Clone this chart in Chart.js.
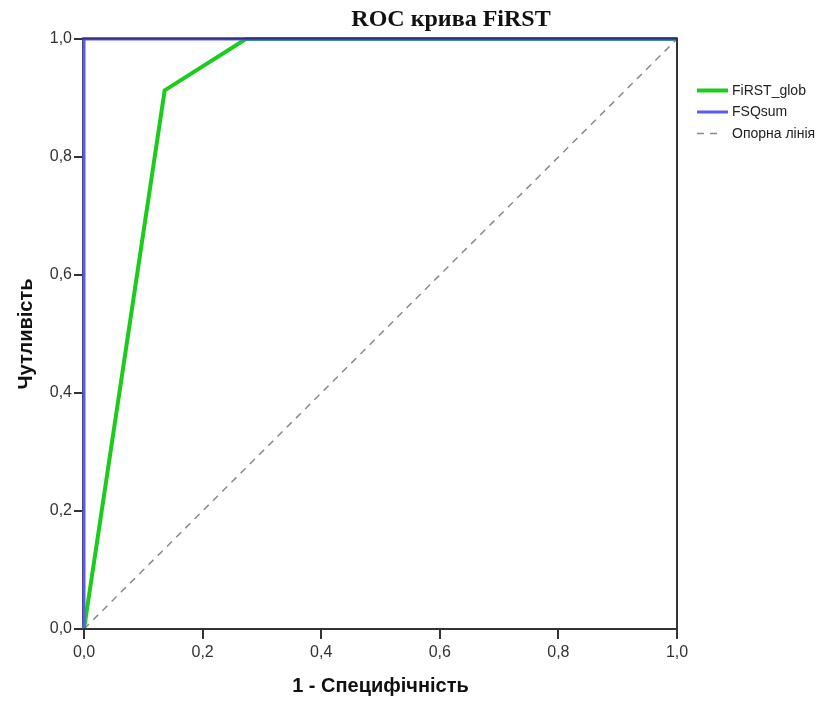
<!DOCTYPE html>
<html>
<head>
<meta charset="utf-8">
<script src="https://cdn.jsdelivr.net/npm/chart.js@4/dist/chart.umd.min.js"></script>
<style>
  html, body { margin: 0; padding: 0; background: #ffffff; }
  #wrap { width: 830px; height: 704px; position: relative; }
</style>
</head>
<body>
<div id="wrap"><canvas id="c" width="830" height="704"></canvas></div>
<script>
// ---- Data ----
const chartTitle = 'ROC крива FiRST';
const xTitle = '1 - Специфічність';
const yTitle = 'Чутливість';
const seriesNames = ['FiRST_glob', 'FSQsum', 'Опорна лінія'];
const firstX = [0, 0.136, 0.273, 1];
const firstY = [0, 0.913, 1, 1];
const fsqX = [0, 0, 1];
const fsqY = [0, 1, 1];
const refX = [0, 1];
const refY = [0, 1];
const tickValues = [0, 0.2, 0.4, 0.6, 0.8, 1.0];
const tickLabels = ['0,0', '0,2', '0,4', '0,6', '0,8', '1,0'];

const colors = { first: '#1ccc1c', fsq: '#5a5af0', ref: '#8a8a8a' };

function pts(xs, ys) { return xs.map((x, i) => ({ x: x, y: ys[i] })); }
function fmt(v) {
  const i = tickValues.findIndex(t => Math.abs(t - v) < 1e-9);
  return i >= 0 ? tickLabels[i] : '';
}

const framePlugin = {
  id: 'frame',
  beforeDatasetsDraw(chart) {
    const a = chart.chartArea, ctx = chart.ctx;
    ctx.save();
    ctx.strokeStyle = '#333333';
    ctx.lineWidth = 2;
    ctx.beginPath();
    ctx.moveTo(a.left - 1, a.top);
    ctx.lineTo(a.left - 1, a.bottom);
    ctx.stroke();
    ctx.restore();
  },
  afterDatasetsDraw(chart) {
    const a = chart.chartArea, ctx = chart.ctx;
    ctx.save();
    ctx.lineWidth = 2;
    ctx.strokeStyle = '#333333';
    ctx.beginPath();
    ctx.moveTo(a.left - 2, a.bottom);
    ctx.lineTo(a.right, a.bottom);
    ctx.lineTo(a.right, a.top - 1);
    ctx.stroke();
    ctx.strokeStyle = '#2c2c86';
    ctx.beginPath();
    ctx.moveTo(a.left - 2, a.top - 0.5);
    ctx.lineTo(a.right + 1, a.top - 0.5);
    ctx.stroke();
    ctx.restore();
  },
  afterDraw(chart) {
    const ctx = chart.ctx;
    ctx.save();
    // Title
    ctx.fillStyle = '#111111';
    ctx.font = 'bold 24px "Liberation Serif", "DejaVu Serif", serif';
    ctx.textAlign = 'center';
    ctx.textBaseline = 'middle';
    ctx.fillText(chartTitle, 451, 20);
    // Legend
    const items = [
      { label: seriesNames[0], color: colors.first, width: 4, dash: [] },
      { label: seriesNames[1], color: colors.fsq, width: 3, dash: [] },
      { label: seriesNames[2], color: colors.ref, width: 1.5, dash: [7, 6] }
    ];
    const ys = [90.5, 112, 133.5];
    ctx.font = '14px "Liberation Sans", Arial, sans-serif';
    ctx.textAlign = 'left';
    items.forEach((it, i) => {
      ctx.beginPath();
      ctx.strokeStyle = it.color;
      ctx.lineWidth = it.width;
      ctx.setLineDash(it.dash);
      ctx.moveTo(697, ys[i]);
      ctx.lineTo(it.dash.length ? 723 : 728, ys[i]);
      ctx.stroke();
      ctx.setLineDash([]);
      ctx.fillStyle = '#222222';
      ctx.fillText(it.label, 732, ys[i] + 0.5);
    });
    ctx.restore();
  }
};

new Chart(document.getElementById('c'), {
  type: 'scatter',
  data: {
    datasets: [
      {
        label: seriesNames[0],
        data: pts(firstX, firstY),
        showLine: true,
        borderColor: colors.first,
        backgroundColor: colors.first,
        borderWidth: 4,
        pointRadius: 0,
        tension: 0,
        clip: 6,
        order: 1
      },
      {
        label: seriesNames[1],
        data: pts(fsqX, fsqY),
        showLine: true,
        borderColor: colors.fsq,
        backgroundColor: colors.fsq,
        borderWidth: 3,
        pointRadius: 0,
        tension: 0,
        clip: 6,
        order: 0
      },
      {
        label: seriesNames[2],
        data: pts(refX, refY),
        showLine: true,
        borderColor: colors.ref,
        backgroundColor: colors.ref,
        borderWidth: 1.5,
        borderDash: [7, 6],
        pointRadius: 0,
        tension: 0,
        clip: 6,
        order: 2
      }
    ]
  },
  options: {
    responsive: false,
    animation: false,
    devicePixelRatio: 1,
    layout: { padding: { top: 39, right: 153, left: 0, bottom: 0 } },
    plugins: {
      legend: { display: false },
      title: { display: false },
      tooltip: { enabled: false }
    },
    scales: {
      x: {
        type: 'linear',
        min: 0, max: 1,
        afterFit(s) { s.height = 75; },
        afterBuildTicks(s) { s.ticks = tickValues.map(v => ({ value: v })); },
        border: { display: false },
        grid: { display: true, drawOnChartArea: false, drawTicks: true, tickLength: 10, color: '#333333', lineWidth: 2 },
        ticks: {
          padding: 4,
          color: '#333333',
          font: { family: '"Liberation Sans", Arial, sans-serif', size: 16 },
          maxRotation: 0,
          callback: (v) => fmt(v)
        },
        title: {
          display: true,
          text: xTitle,
          color: '#111111',
          font: { family: '"Liberation Sans", Arial, sans-serif', size: 20, weight: 'bold' },
          padding: { top: 0, bottom: 6 }
        }
      },
      y: {
        type: 'linear',
        min: 0, max: 1,
        afterFit(s) { s.width = 84; },
        afterBuildTicks(s) { s.ticks = tickValues.map(v => ({ value: v })); },
        border: { display: false },
        grid: { display: true, drawOnChartArea: false, drawTicks: true, tickLength: 10, color: '#333333', lineWidth: 2 },
        ticks: {
          padding: 2,
          color: '#333333',
          font: { family: '"Liberation Sans", Arial, sans-serif', size: 16 },
          callback: (v) => fmt(v)
        },
        title: {
          display: true,
          text: yTitle,
          color: '#111111',
          font: { family: '"Liberation Sans", Arial, sans-serif', size: 20, weight: 'bold' },
          padding: { top: 14, bottom: 0 }
        }
      }
    }
  },
  plugins: [framePlugin]
});
</script>
</body>
</html>
